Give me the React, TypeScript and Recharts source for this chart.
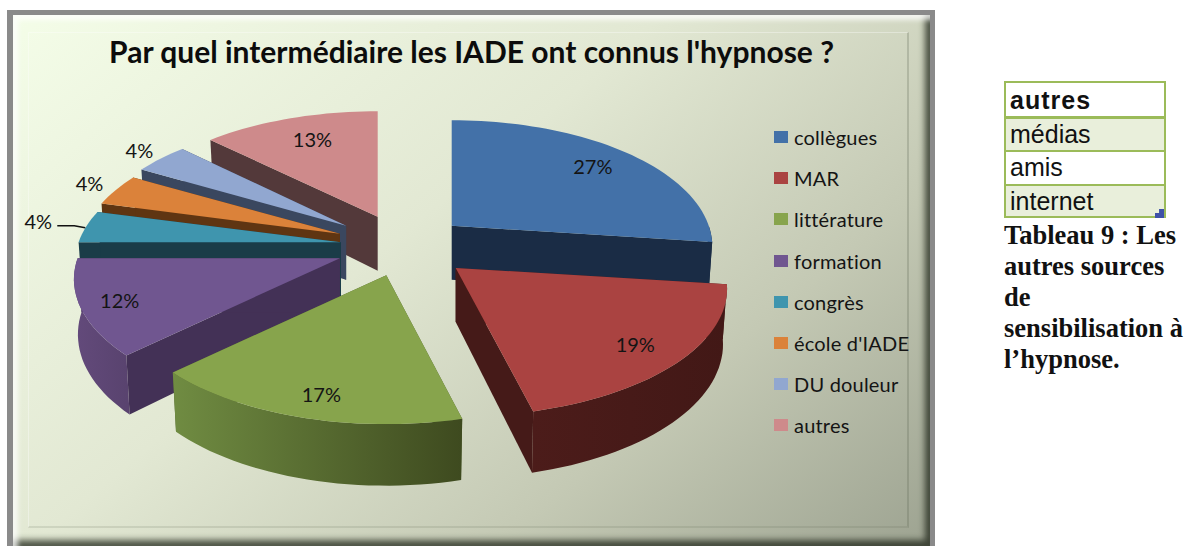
import { PieChart, Pie, Legend } from 'recharts';

const CATEGORIES = ['collègues', 'MAR', 'littérature', 'formation', 'congrès', "école d'IADE", 'DU douleur', 'autres'];
const VALUES = [27, 19, 17, 12, 4, 4, 4, 13];
const COLORS = ['#4371a8', '#aa4341', '#87a44c', '#705690', '#3f95ae', '#db823a', '#91a7d0', '#ce8a8b'];
const RADIAL_COLORS = ['#1a2c45', '#451a18', '#4f6030', '#433156', '#1a3c48', '#5f3512', '#3a475f', '#53393a'];
const SIDE_LEFT = ['#1a2c45', '#4c1c1a', '#708c42', '#634a7b', '#2f7080', '#a05f28', '#6c7d9c', '#9a6868'];
const SIDE_RIGHT = ['#1a2c45', '#421816', '#3e4a1f', '#59436f', '#2f7080', '#a05f28', '#6c7d9c', '#9a6868'];
const EXPLOSION = [0.24, 0.26, 0.24, 0.26, 0.24, 0.26, 0.27, 0.25];
const RIM_SCALE_X = [0.97, 1.01, 0.99, 0.99, 0.99, 0.97, 0.96, 0.98];
const LABEL_RADIUS = [0.8, 0.83, 0.79, 0.86, 1.18, 1.11, 1.11, 0.78];
const LABEL_SHIFT_X = [0, 0, 3, 0, 1, 1, 1, 3];
const LABEL_SHIFT_Y = [0, 0, 6, 0, -3, -3, -3, -2];
const TABLE_ROWS = ['autres', 'médias', 'amis', 'internet'];
const CAPTION_LINES = ['Tableau 9 : Les', 'autres sources', 'de', 'sensibilisation à', "l’hypnose."];
// back to front, so nearer slices cover the walls of the ones behind
const DRAW_ORDER = [0, 7, 6, 5, 4, 3, 2, 1];

const TITLE = "Par quel intermédiaire les IADE ont connus l'hypnose ?";

const FLATTEN = 0.48;
const PERSPECTIVE = 0.17;
const DEPTH = 54;
const CX = 404;
const CY = 246;
const RADIUS = 265;

const data = CATEGORIES.map((name, i) => ({ name, value: VALUES[i], fill: COLORS[i] }));

const rad = (deg: number) => (deg * Math.PI) / 180;

// pie angle is degrees from 12 o'clock, clockwise
function rimOffset(theta: number, r: number, radius = 1) {
  const X = Math.sin(rad(theta));
  const Y = -Math.cos(rad(theta));
  const s = 1 + PERSPECTIVE * Y;
  return { dx: r * X * s * radius, dy: r * FLATTEN * Y * s * radius, Y };
}

function apexOf(cx: number, cy: number, r: number, midTheta: number, explode: number) {
  const X = Math.sin(rad(midTheta));
  const Y = -Math.cos(rad(midTheta));
  return { x: cx + explode * r * X, y: cy + explode * r * FLATTEN * Y };
}

const toPath = (pts: number[][]) => 'M' + pts.map(p => p[0].toFixed(1) + ',' + p[1].toFixed(1)).join('L') + 'Z';

function Slice3D(props: any) {
  const { cx, cy, outerRadius, startAngle, endAngle, fill, name } = props;
  const i = CATEGORIES.indexOf(name);
  const t0 = 90 - startAngle;
  const t1 = 90 - endAngle;
  const apex = apexOf(cx, cy, outerRadius, (t0 + t1) / 2, EXPLOSION[i]);

  const top = (t: number) => {
    const o = rimOffset(t, outerRadius);
    return [apex.x + o.dx * RIM_SCALE_X[i], apex.y + o.dy];
  };
  const bottom = (t: number) => {
    const o = rimOffset(t, outerRadius);
    return [apex.x + o.dx * RIM_SCALE_X[i] * 0.985, apex.y + o.dy + DEPTH * (1 + 0.14 * o.Y)];
  };
  const sweep = (a: number, b: number) => {
    const out: number[] = [];
    const n = Math.max(2, Math.ceil(Math.abs(b - a) / 2));
    for (let k = 0; k <= n; k++) out.push(a + ((b - a) * k) / n);
    return out;
  };

  const apexLow = [apex.x, apex.y + DEPTH];
  const face = toPath([[apex.x, apex.y], ...sweep(t0, t1).map(top)]);
  const wall0 = toPath([[apex.x, apex.y], top(t0), bottom(t0), apexLow]);
  const wall1 = toPath([[apex.x, apex.y], top(t1), bottom(t1), apexLow]);

  // the rim is only seen on the near half of the pie
  const a = Math.max(t0, 90);
  const b = Math.min(t1, 270);
  const hasRim = b > a;
  const rimTop = hasRim ? sweep(a, b).map(top) : [];
  const rimBottom = hasRim ? sweep(a, b).map(bottom).reverse() : [];
  const xs = rimTop.map(p => p[0]);
  const gid = 'rim' + i;

  return (
    <g>
      {hasRim && (
        <defs>
          <linearGradient id={gid} gradientUnits="userSpaceOnUse" x1={Math.min(...xs)} x2={Math.max(...xs)} y1="0" y2="0">
            <stop offset="0" stopColor={SIDE_LEFT[i]} />
            <stop offset="1" stopColor={SIDE_RIGHT[i]} />
          </linearGradient>
        </defs>
      )}
      <path d={wall0} fill={RADIAL_COLORS[i]} />
      <path d={wall1} fill={RADIAL_COLORS[i]} />
      {hasRim && <path d={toPath([...rimTop, ...rimBottom])} fill={`url(#${gid})`} />}
      <path d={face} fill={fill} />
    </g>
  );
}

function SliceLabel(props: any) {
  const { cx, cy, outerRadius, midAngle, name, value } = props;
  const i = CATEGORIES.indexOf(name);
  const theta = 90 - midAngle;
  const apex = apexOf(cx, cy, outerRadius, theta, 0.24);
  const o = rimOffset(theta, outerRadius, LABEL_RADIUS[i]);
  const x = apex.x + o.dx + LABEL_SHIFT_X[i];
  const y = apex.y + o.dy + LABEL_SHIFT_Y[i];
  return (
    <g>
      {name === 'congrès' && (
        <path d={`M${x + 19},${y + 5}L${x + 36},${y + 5}L${x + 47},${y + 7}`} fill="none" stroke="#111" strokeWidth={1.4} />
      )}
      <text x={x} y={y} textAnchor="middle" dominantBaseline="central" fontFamily="Lato" fontSize={20} fill="#141414">
        {value}%
      </text>
    </g>
  );
}

function ChartLegend({ payload }: any) {
  const seen = new Set<string>();
  const items = (payload || []).filter((p: any) => {
    if (seen.has(p.value)) return false;
    seen.add(p.value);
    return true;
  });
  return (
    <div>
      {items.map((p: any) => (
        <div key={p.value} style={{ position: 'relative', height: 41.2, fontFamily: 'Lato', fontSize: 20, letterSpacing: 0.2, color: '#141414', whiteSpace: 'nowrap' }}>
          <span style={{ position: 'absolute', left: 0, top: 4, width: 14, height: 12, background: p.color }} />
          <span style={{ position: 'absolute', left: 20, top: -2, lineHeight: '24px' }}>{p.value}</span>
        </div>
      ))}
    </div>
  );
}

function Frame() {
  return (
    <div style={{ position: 'absolute', left: 7, top: 10, width: 928, height: 536, background: '#8a8a8a' }}>
      <div
        style={{
          position: 'absolute', left: 6, top: 5, right: 5, bottom: 0,
          background: 'linear-gradient(140deg, #f4fde8 0%, #e2e8d3 42%, #c4c9b4 72%, #9da391 100%)',
          boxShadow: 'inset 5px 5px 5px rgba(255,255,255,0.75), inset -5px -6px 6px rgba(30,36,24,0.75)',
        }}
      >
        <div
          style={{
            position: 'absolute', left: 15, top: 17, right: 21, bottom: 18,
            borderTop: '1px solid rgba(255,255,255,0.35)', borderLeft: '1px solid rgba(255,255,255,0.35)',
            borderRight: '2px solid rgba(90,100,80,0.25)', borderBottom: '2px solid rgba(90,100,80,0.15)',
          }}
        />
      </div>
    </div>
  );
}

const ROW_HEIGHTS = [33, 34, 34, 32];

function SideTable() {
  return (
    <div style={{ position: 'absolute', left: 1004, top: 81, width: 162, fontFamily: 'Liberation Sans', color: '#111' }}>
      <div style={{ border: '2px solid #9bbb59', boxSizing: 'border-box' }}>
        {TABLE_ROWS.map((row, i) => (
          <div
            key={row}
            style={{
              boxSizing: 'border-box',
              height: ROW_HEIGHTS[i],
              lineHeight: i === 0 ? '35px' : '30px',
              paddingLeft: 4,
              fontSize: 25,
              fontWeight: i === 0 ? 700 : 400,
              letterSpacing: i === 0 ? 1 : 0,
              background: i % 2 ? '#e9efdb' : '#fff',
              borderTop: i === 0 ? 'none' : i === 1 ? '3px solid #9bbb59' : '2px solid #9bbb59',
            }}
          >
            {row}
          </div>
        ))}
      </div>
      <div style={{ position: 'absolute', left: 151, top: 128, width: 9, height: 9, background: '#3f51a8', clipPath: 'polygon(45% 0, 100% 0, 100% 100%, 0 100%, 0 45%, 45% 45%)' }} />
      <div style={{ position: 'absolute', left: 0, top: 139, width: 190, fontFamily: 'Liberation Serif', fontWeight: 700, fontSize: 26.5, lineHeight: '31px', color: '#111', whiteSpace: 'nowrap' }}>
        {CAPTION_LINES.map(l => <div key={l}>{l}</div>)}
      </div>
    </div>
  );
}

export default function App() {
  return (
    <div style={{ position: 'absolute', left: 0, top: 0, width: 1187, height: 546, overflow: 'hidden', background: '#fff' }}>
      <Frame />
      <SideTable />
      <div style={{ position: 'absolute', left: 0, top: 0 }}>
        <PieChart width={1187} height={546} margin={{ top: 0, right: 0, bottom: 0, left: 0 }}>
          <text x={471.5} y={63} textAnchor="middle" fontFamily="Lato" fontWeight={700} fontSize={30} fill="#0c0c0c">
            {TITLE}
          </text>
          {DRAW_ORDER.map(idx => (
            <Pie
              key={idx}
              data={data}
              dataKey="value"
              nameKey="name"
              cx={CX}
              cy={CY}
              innerRadius={0}
              outerRadius={RADIUS}
              startAngle={90}
              endAngle={-270}
              stroke="none"
              legendType="none"
              isAnimationActive={false}
              shape={(p: any) => (p.name === CATEGORIES[idx] ? <Slice3D {...p} /> : <g />)}
            />
          ))}
          <Pie
            data={data}
            dataKey="value"
            nameKey="name"
            cx={CX}
            cy={CY}
            innerRadius={0}
            outerRadius={RADIUS}
            startAngle={90}
            endAngle={-270}
            stroke="none"
            isAnimationActive={false}
            shape={() => <g />}
            label={SliceLabel}
            labelLine={false}
          />
          <Legend
            layout="vertical"
            align="center"
            verticalAlign="middle"
            itemSorter={null}
            wrapperStyle={{ left: 774, top: 127, width: 150 }}
            content={ChartLegend}
          />
        </PieChart>
      </div>
    </div>
  );
}
